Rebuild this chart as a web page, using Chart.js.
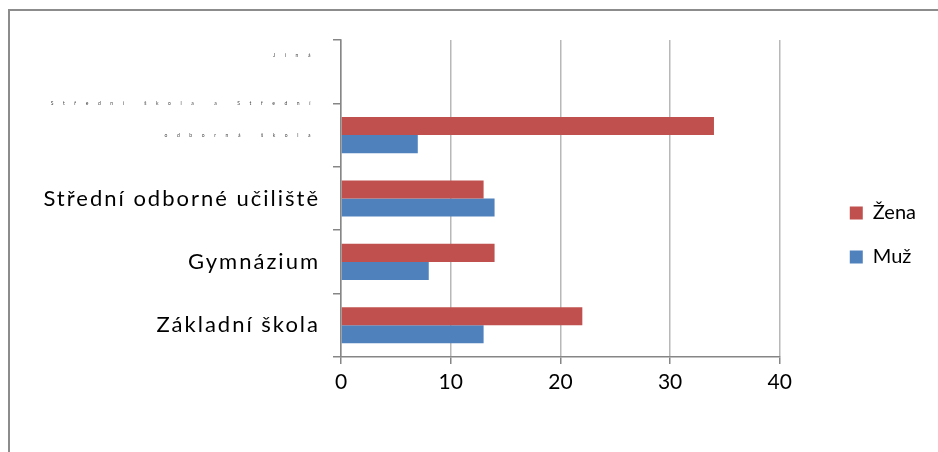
<!DOCTYPE html>
<html lang="cs">
<head>
    <meta charset="UTF-8">
    <script src="https://cdn.jsdelivr.net/npm/chart.js"></script>
    <style>
        body {
            margin: 0;
            background: #fff;
            overflow: hidden;
        }
        .frame {
            position: absolute;
            left: 8px;
            top: 9px;
            width: 960px;
            height: 480px;
            border-left: 2px solid #8c8c8c;
            border-top: 2px solid #8c8c8c;
        }
        #chart {
            position: absolute;
            left: 0;
            top: 0;
        }
    </style>
</head>
<body>
    <div class="frame"></div>
    <canvas id="chart" width="938" height="452"></canvas>
    <script>
        // categories from top to bottom
        const categories = [
            ['Jiná', ''],
            ['Střední škola a Střední', 'odborná škola', ''],
            'Střední odborné učiliště',
            'Gymnázium',
            'Základní škola'
        ];
        const zenaValues = [null, 34, 13, 14, 22];
        const muzValues = [null, 7, 14, 8, 13];
        const xTicks = [0, 10, 20, 30, 40];

        const canvas = document.getElementById('chart');
        const ctx = canvas.getContext('2d');

        // Excel spreads the letters of the axis labels; the top two are tiny
        const origFill = ctx.fillText;
        ctx.fillText = function (t, x, y, w) {
            if (this.font.startsWith('5px')) {
                this.letterSpacing = '9.6px';
            } else if (this.font.startsWith('22px')) {
                this.letterSpacing = '2px';
            }
            if (w === undefined) {
                origFill.call(this, t, x, y);
            } else {
                origFill.call(this, t, x, y, w);
            }
            this.letterSpacing = '0px';
        };

        const smallLabel = (i) => Array.isArray(categories[i]) && categories[i].length > 1;

        new Chart(ctx, {
            type: 'bar',
            data: {
                labels: categories,
                datasets: [
                    {
                        label: 'Žena',
                        data: zenaValues,
                        backgroundColor: '#c0504d',
                        barPercentage: 1,
                        categoryPercentage: 0.57
                    },
                    {
                        label: 'Muž',
                        data: muzValues,
                        backgroundColor: '#4f81bd',
                        barPercentage: 1,
                        categoryPercentage: 0.57
                    }
                ]
            },
            options: {
                indexAxis: 'y',
                responsive: false,
                animation: false,
                layout: { padding: { top: 18, left: 0, right: 12, bottom: 0 } },
                scales: {
                    x: {
                        min: xTicks[0],
                        max: xTicks[xTicks.length - 1],
                        afterBuildTicks: (s) => { s.ticks = xTicks.map(v => ({ value: v })); },
                        afterFit: (s) => { s.height = 95; },
                        grid: { color: '#b8b8b8', lineWidth: 1.5, tickColor: '#868686', tickLength: 7 },
                        border: { color: '#868686', width: 1.5 },
                        ticks: { color: '#000', padding: 6, font: { family: 'Lato', size: 21 } }
                    },
                    y: {
                        afterFit: (s) => { s.width = 341; },
                        grid: { drawOnChartArea: false, tickColor: '#868686', tickLength: 8, lineWidth: 1.5 },
                        border: { color: '#868686', width: 1.5 },
                        ticks: {
                            color: (c) => smallLabel(c.index) ? '#444' : '#000',
                            padding: 13,
                            autoSkip: false,
                            font: (c) => smallLabel(c.index)
                                ? { family: 'Lato', size: 5, lineHeight: 6.4 }
                                : { family: 'Lato', size: 22 }
                        }
                    },
                    gapTop: {
                        position: 'top',
                        afterFit: (s) => { s.height = 22; },
                        grid: { display: false },
                        border: { display: false },
                        ticks: { display: false }
                    },
                    gapRight: {
                        position: 'right',
                        afterFit: (s) => { s.width = 46; },
                        grid: { display: false },
                        border: { display: false },
                        ticks: { display: false }
                    }
                },
                plugins: {
                    tooltip: { enabled: false },
                    legend: {
                        position: 'right',
                        labels: {
                            color: '#000',
                            boxWidth: 13,
                            boxHeight: 13,
                            padding: 24,
                            font: { family: 'Lato', size: 20 }
                        }
                    }
                }
            }
        });
    </script>
</body>
</html>
